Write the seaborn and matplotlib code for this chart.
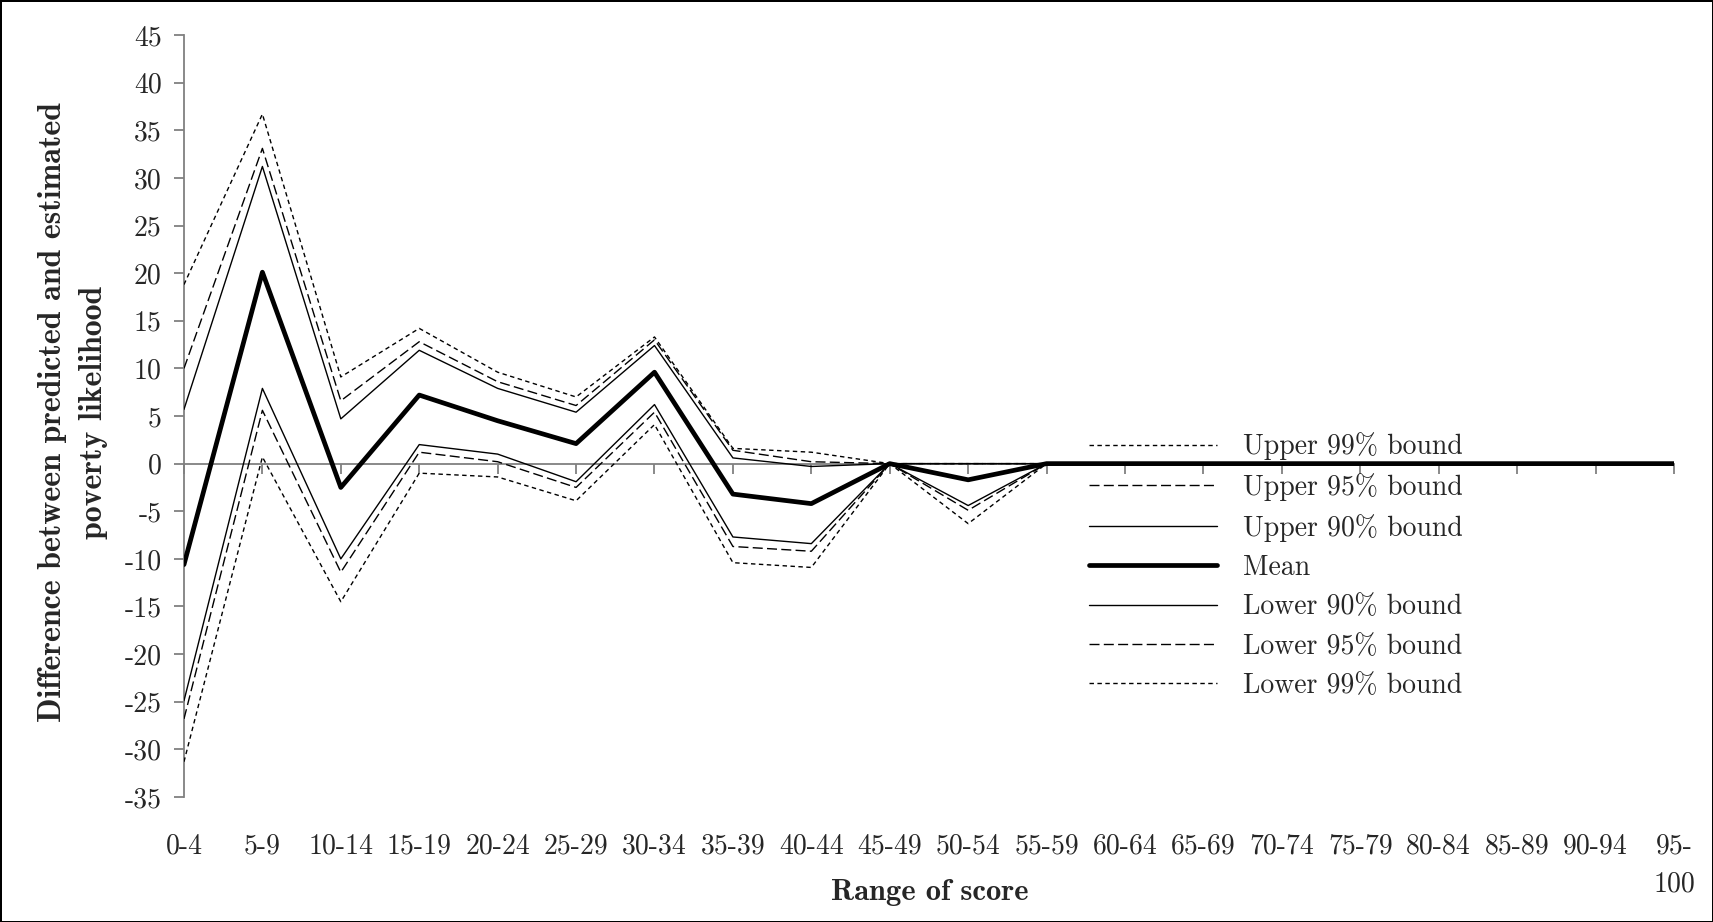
import matplotlib
matplotlib.use("Agg")
import matplotlib.pyplot as plt
import numpy as np
import pandas as pd
import seaborn as sns
from matplotlib.ticker import FixedLocator, FuncFormatter

# Score ranges (categories on the x axis)
score_ranges = ["0-4", "5-9", "10-14", "15-19", "20-24", "25-29", "30-34",
                "35-39", "40-44", "45-49", "50-54", "55-59", "60-64", "65-69",
                "70-74", "75-79", "80-84", "85-89", "90-94", "95-\n100"]

# Difference between predicted and estimated poverty likelihood, by score range
upper_99 = [18.8, 36.7, 9.1, 14.2, 9.6, 7.0, 13.3, 1.6, 1.2, 0.0, 0.0, 0.0, 0.0, 0.0, 0.0, 0.0, 0.0, 0.0, 0.0, 0.0]
upper_95 = [10.0, 33.1, 6.6, 12.8, 8.6, 6.1, 13.0, 1.4, 0.2, 0.0, 0.0, 0.0, 0.0, 0.0, 0.0, 0.0, 0.0, 0.0, 0.0, 0.0]
upper_90 = [5.7, 31.2, 4.7, 11.9, 7.9, 5.4, 12.4, 0.6, -0.3, 0.0, 0.0, 0.0, 0.0, 0.0, 0.0, 0.0, 0.0, 0.0, 0.0, 0.0]
mean = [-10.6, 20.1, -2.5, 7.2, 4.5, 2.1, 9.6, -3.2, -4.2, 0.0, -1.7, 0.0, 0.0, 0.0, 0.0, 0.0, 0.0, 0.0, 0.0, 0.0]
lower_90 = [-24.9, 7.9, -10.0, 2.0, 1.0, -1.9, 6.2, -7.7, -8.4, 0.0, -4.4, 0.0, 0.0, 0.0, 0.0, 0.0, 0.0, 0.0, 0.0, 0.0]
lower_95 = [-26.8, 5.6, -11.4, 1.2, 0.2, -2.5, 5.4, -8.7, -9.2, 0.0, -4.9, 0.0, 0.0, 0.0, 0.0, 0.0, 0.0, 0.0, 0.0, 0.0]
lower_99 = [-31.3, 0.7, -14.5, -1.0, -1.4, -3.9, 4.1, -10.4, -10.9, 0.0, -6.3, 0.0, 0.0, 0.0, 0.0, 0.0, 0.0, 0.0, 0.0, 0.0]

series_labels = ["Upper 99% bound", "Upper 95% bound", "Upper 90% bound", "Mean",
                 "Lower 90% bound", "Lower 95% bound", "Lower 99% bound"]
series_values = [upper_99, upper_95, upper_90, mean, lower_90, lower_95, lower_99]

y_ticks = list(range(-35, 50, 5))

sns.set_style("white")
plt.rcParams["font.family"] = ["cmr10", "DejaVu Serif"]
plt.rcParams["font.size"] = 20

positions = np.arange(len(score_ranges))
df = pd.DataFrame({"pos": np.tile(positions, len(series_labels)),
                   "value": np.concatenate(series_values),
                   "series": np.repeat(series_labels, len(score_ranges))})

dotted = (3.2, 2.5)
dashed = (7.2, 3.1)
styles = {
    "Upper 99% bound": dict(lw=1.0, dashes=dotted),
    "Upper 95% bound": dict(lw=1.0, dashes=dashed),
    "Upper 90% bound": dict(lw=1.0, dashes=None),
    "Mean": dict(lw=3.4, dashes=None),
    "Lower 90% bound": dict(lw=1.0, dashes=None),
    "Lower 95% bound": dict(lw=1.0, dashes=dashed),
    "Lower 99% bound": dict(lw=1.0, dashes=dotted),
}

fig = plt.figure(figsize=(17.13, 9.22), dpi=100)
fig.patch.set_edgecolor("black")
fig.patch.set_linewidth(2.0)
ax = fig.add_axes([0.1074, 0.1356, 0.8698, 0.8264])

handles = []
for label in series_labels:
    st = styles[label]
    sub = df[df["series"] == label]
    sns.lineplot(data=sub, x="pos", y="value", ax=ax, color="black",
                 linewidth=st["lw"], sort=False, estimator=None,
                 zorder=4 if label == "Mean" else 3, label=label)
    line = ax.lines[-1]
    if st["dashes"] is not None:
        line.set_dashes(st["dashes"])
    handles.append(line)

ax.set_xlim(0, len(score_ranges) - 1)
ax.set_ylim(-35, 45)

# y axis: grey spine with outward ticks every 5
ax.spines["left"].set_color("#808080")
ax.spines["left"].set_linewidth(1.3)
ax.spines["right"].set_visible(False)
ax.spines["top"].set_visible(False)
ax.yaxis.set_major_locator(FixedLocator(y_ticks))
ax.yaxis.set_major_formatter(FuncFormatter(lambda v, p: f"{int(round(v))}"))
ax.tick_params(axis="y", direction="out", length=7, width=1.3, color="#808080",
               pad=9, labelsize=20, left=True)

# x axis drawn through zero with small downward ticks
ax.spines["bottom"].set_position(("data", 0))
ax.spines["bottom"].set_color("#808080")
ax.spines["bottom"].set_linewidth(1.3)
ax.set_zorder(1)
ax.xaxis.set_major_locator(FixedLocator(positions))
ax.tick_params(axis="x", direction="out", length=7, width=1.3, color="#808080",
               labelbottom=False, bottom=True)
ax.set_xlabel("")
ax.set_ylabel("")

# category labels along the bottom of the plot area
sec = ax.secondary_xaxis("bottom", functions=(lambda x: x, lambda x: x))
sec.set_xticks(positions, score_ranges)
sec.tick_params(axis="x", length=0, pad=26, labelsize=20)
sec.spines["bottom"].set_visible(False)
for t in sec.get_xticklabels():
    t.set_linespacing(1.6)

# axis titles
fig.text(0.543, 0.0315, "Range of score", ha="center", va="center",
         fontfamily="cmb10", fontsize=22)
fig.text(0.0425, 0.553, "Difference between predicted and estimated\npoverty likelihood",
         rotation=90, ha="center", va="center", multialignment="center",
         fontfamily="cmb10", fontsize=23, linespacing=1.5)

ax.legend(handles=handles, labels=series_labels, loc="upper left",
          bbox_to_anchor=(0.6357, 0.531), bbox_transform=fig.transFigure,
          frameon=False, fontsize=20, handlelength=4.6, handletextpad=0.95,
          labelspacing=0.465, borderpad=0, borderaxespad=0)

fig.savefig("out.png", dpi=100)
